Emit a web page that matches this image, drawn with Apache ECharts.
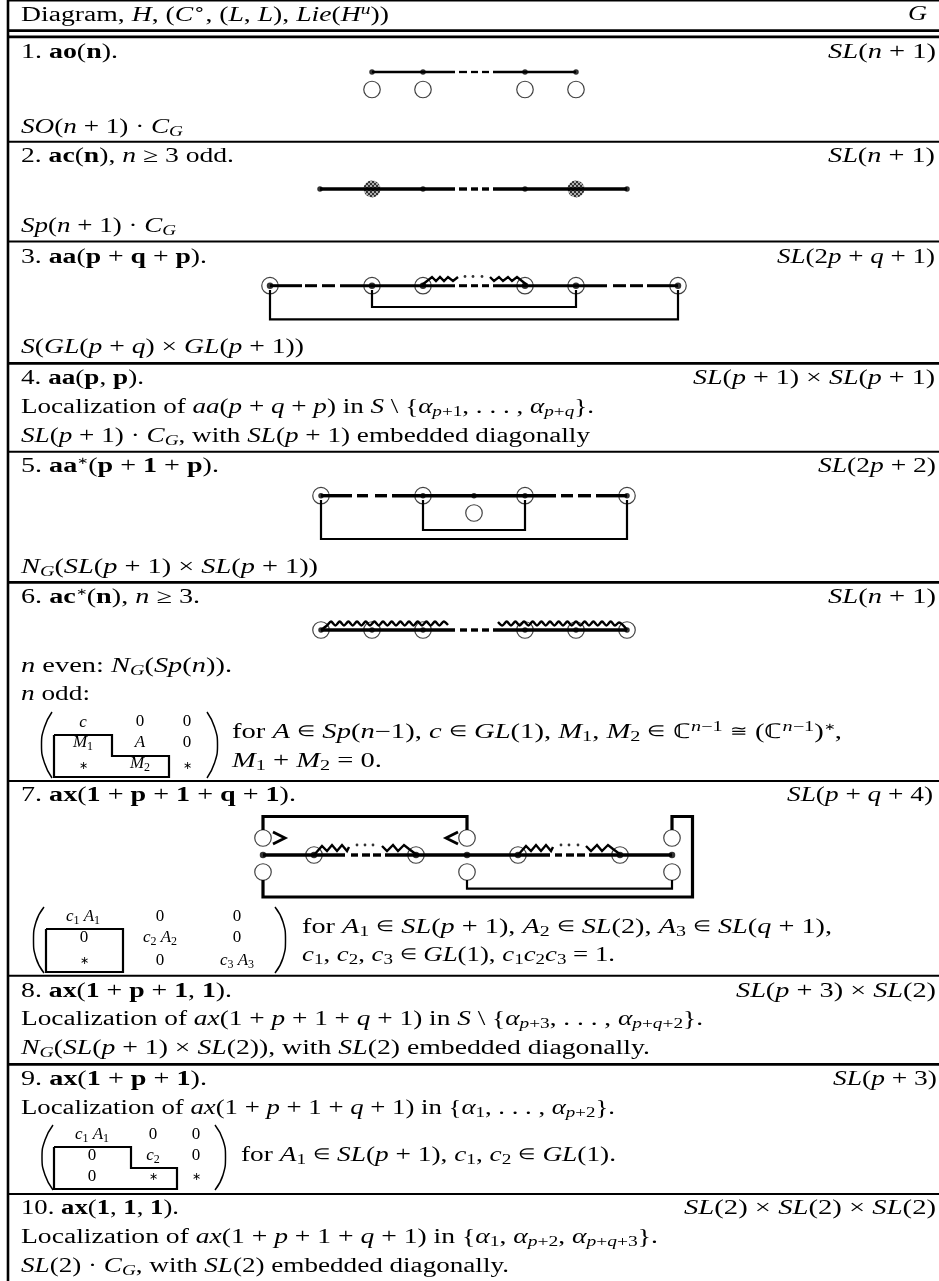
<!DOCTYPE html>
<html><head><meta charset="utf-8">
<style>html,body{margin:0;padding:0;background:#fff}#c{width:939px;height:1281px}</style>
<script src="https://cdn.jsdelivr.net/npm/echarts@6/dist/echarts.min.js"></script>
</head><body><div id="c"></div>
<script>
// ---- table rules: [y, weight]
const heavyRules = [30.7, 36.8, 363.3, 582.3, 1064.3];
const lightRules = [0.6, 141.8, 241.6, 451.7, 781, 975.7, 1194];
const leftBorder = [[8, 0], [8, 1281]];

// ---- text rows: [left, right, centre y, markup]
const textRows = [
 [21,389,15,"Diagram, {i|H}, ({i|C}{ur|∘}, ({i|L}, {i|L}), {i|Lie}({i|H}{u|u}))"],
 [908,927,14,"{i|G}"],
 [21,118,52,"1. {b|ao}({b|n})."],
 [828,936,52,"{i|SL}({i|n} + 1)"],
 [21,183,127,"{i|SO}({i|n} + 1) · {i|C}{s|G}"],
 [21,234,156,"2. {b|ac}({b|n}), {i|n} ≥ 3 odd."],
 [828,935,156,"{i|SL}({i|n} + 1)"],
 [21,176,226,"{i|Sp}({i|n} + 1) · {i|C}{s|G}"],
 [21,207,257,"3. {b|aa}({b|p} + {b|q} + {b|p})."],
 [777,935,257,"{i|SL}(2{i|p} + {i|q} + 1)"],
 [21,304,347,"{i|S}({i|GL}({i|p} + {i|q}) × {i|GL}({i|p} + 1))"],
 [21,144,378,"4. {b|aa}({b|p}, {b|p})."],
 [693,935,378,"{i|SL}({i|p} + 1) × {i|SL}({i|p} + 1)"],
 [21,594,407,"Localization of {i|aa}({i|p} + {i|q} + {i|p}) in {i|S} \\ {{i|α}{s|p}{sr|+1}, . . . , {i|α}{s|p}{sr|+}{s|q}}."],
 [21,590,436,"{i|SL}({i|p} + 1) · {i|C}{s|G}, with {i|SL}({i|p} + 1) embedded diagonally"],
 [21,219,466,"5. {b|aa}{ua|∗}({b|p} + {b|1} + {b|p})."],
 [818,936,466,"{i|SL}(2{i|p} + 2)"],
 [21,318,567,"{i|N}{s|G}({i|SL}({i|p} + 1) × {i|SL}({i|p} + 1))"],
 [21,200,597,"6. {b|ac}{ua|∗}({b|n}), {i|n} ≥ 3."],
 [828,936,597,"{i|SL}({i|n} + 1)"],
 [21,232,666,"{i|n} even: {i|N}{s|G}({i|Sp}({i|n}))."],
 [21,90,694,"{i|n} odd:"],
 [232,842,732,"for {i|A} ∈ {i|Sp}({i|n}−1), {i|c} ∈ {i|GL}(1), {i|M}{sr|1}, {i|M}{sr|2} ∈ ℂ{u|n}{ur|−1} ≅ (ℂ{u|n}{ur|−1}){ua|∗},"],
 [232,382,761,"{i|M}{sr|1} + {i|M}{sr|2} = 0."],
 [21,296,795,"7. {b|ax}({b|1} + {b|p} + {b|1} + {b|q} + {b|1})."],
 [787,933,795,"{i|SL}({i|p} + {i|q} + 4)"],
 [302,832,927,"for {i|A}{sr|1} ∈ {i|SL}({i|p} + 1), {i|A}{sr|2} ∈ {i|SL}(2), {i|A}{sr|3} ∈ {i|SL}({i|q} + 1),"],
 [302,615,955,"{i|c}{sr|1}, {i|c}{sr|2}, {i|c}{sr|3} ∈ {i|GL}(1), {i|c}{sr|1}{i|c}{sr|2}{i|c}{sr|3} = 1."],
 [21,232,991,"8. {b|ax}({b|1} + {b|p} + {b|1}, {b|1})."],
 [736,936,991,"{i|SL}({i|p} + 3) × {i|SL}(2)"],
 [21,703,1019,"Localization of {i|ax}(1 + {i|p} + 1 + {i|q} + 1) in {i|S} \\ {{i|α}{s|p}{sr|+3}, . . . , {i|α}{s|p}{sr|+}{s|q}{sr|+2}}."],
 [21,650,1048,"{i|N}{s|G}({i|SL}({i|p} + 1) × {i|SL}(2)), with {i|SL}(2) embedded diagonally."],
 [21,207,1079,"9. {b|ax}({b|1} + {b|p} + {b|1})."],
 [833,937,1079,"{i|SL}({i|p} + 3)"],
 [21,615,1108,"Localization of {i|ax}(1 + {i|p} + 1 + {i|q} + 1) in {{i|α}{sr|1}, . . . , {i|α}{s|p}{sr|+2}}."],
 [241,616,1155,"for {i|A}{sr|1} ∈ {i|SL}({i|p} + 1), {i|c}{sr|1}, {i|c}{sr|2} ∈ {i|GL}(1)."],
 [21,179,1208,"10. {b|ax}({b|1}, {b|1}, {b|1})."],
 [684,936,1208,"{i|SL}(2) × {i|SL}(2) × {i|SL}(2)"],
 [21,658,1237,"Localization of {i|ax}(1 + {i|p} + 1 + {i|q} + 1) in {{i|α}{sr|1}, {i|α}{s|p}{sr|+2}, {i|α}{s|p}{sr|+}{s|q}{sr|+3}}."],
 [21,509,1266,"{i|SL}(2) · {i|C}{s|G}, with {i|SL}(2) embedded diagonally."]
];

// ---- matrix entries: [centre x, centre y, markup]
const matrixCells = [
 [83,723,"{ci|c}"],[140,722,"0"],[187,722,"0"],
 [83,743,"{ci|M}{cs|1}"],[140,743,"{ci|A}"],[187,743,"0"],
 [83,766,"{cm|∗}"],[140,764,"{ci|M}{cs|2}"],[187,766,"{cm|∗}"],
 [83,917,"{ci|c}{cs|1} {ci|A}{cs|1}"],[160,917,"0"],[237,917,"0"],
 [84,938,"0"],[160,938,"{ci|c}{cs|2} {ci|A}{cs|2}"],[237,938,"0"],
 [84,961,"{cm|∗}"],[160,961,"0"],[237,961,"{ci|c}{cs|3} {ci|A}{cs|3}"],
 [92,1135,"{ci|c}{cs|1} {ci|A}{cs|1}"],[153,1135,"0"],[196,1135,"0"],
 [92,1156,"0"],[153,1156,"{ci|c}{cs|2}"],[196,1156,"0"],
 [92,1177,"0"],[153,1177,"{cm|∗}"],[196,1177,"{cm|∗}"]
];
const matrixParens = [
 [[52,712],[44.5,727],[41.5,745],[44.5,763],[52,778]],
 [[207,712],[214.5,727],[217.5,745],[214.5,763],[207,778]],
 [[44,907],[36,922],[33.5,940],[36,958],[44,973]],
 [[275,907],[283,922],[285.5,940],[283,958],[275,973]],
 [[53,1125],[45,1140],[42,1157],[45,1175],[53,1190]],
 [[215,1125],[223,1140],[225.5,1157],[223,1175],[215,1190]]
];
const matrixBlocks = [
 [[54,735],[112,735],[112,756],[169,756],[169,777],[54,777],[54,735]],
 [[46,929],[123,929],[123,972],[46,972],[46,929]],
 [[54,1147],[131,1147],[131,1168],[177,1168],[177,1189],[54,1189],[54,1147]]
];

// ---- diagram 1
const d1Bars = [[[372,72],[455,72]],[[459,72],[467,72]],[[471,72],[478,72]],[[482,72],[489,72]],[[493,72],[576,72]]];
const d1Dots = [[372,72],[423,72],[525,72],[576,72]];
const d1Rings = [[372,89.5],[423,89.5],[525,89.5],[576,89.5]];
// ---- diagram 2
const d2Bars = [[[320,189],[455,189]],[[459,189],[467,189]],[[471,189],[478,189]],[[482,189],[489,189]],[[493,189],[627,189]]];
const d2Dots = [[320,189],[423,189],[525,189],[627,189]];
const d2Hatched = [[372,189],[576,189]];
// ---- diagram 3
const d3Bars = [[[270,285.7],[302,285.7]],[[305,285.7],[317,285.7]],[[322,285.7],[335,285.7]],[[340,285.7],[455,285.7]],[[459,285.7],[467,285.7]],[[471,285.7],[478,285.7]],[[482,285.7],[489,285.7]],[[493,285.7],[607,285.7]],[[613,285.7],[626,285.7]],[[630,285.7],[643,285.7]],[[647,285.7],[678,285.7]]];
const d3Dots = [[270,285.7],[372,285.7],[423,285.7],[525,285.7],[576,285.7],[678,285.7]];
const d3Links = [[[372,290],[372,307],[576,307],[576,290]],[[270,290],[270,319.3],[678,319.3],[678,290]]];
const d3Wiggles = [
 [[422,285],[432,277],[436,281],[440,277],[444,281],[448,277],[453,281],[458,277]],
 [[490,277],[494,281],[499,277],[503,281],[508,277],[512,281],[517,277],[527,285]]
];
const d3Points = [[465,276.5],[473,276.5],[482,276.5]];
// ---- diagram 5
const d5Bars = [[[321,495.7],[352,495.7]],[[357,495.7],[368,495.7]],[[375,495.7],[387,495.7]],[[392,495.7],[556,495.7]],[[561,495.7],[573,495.7]],[[578,495.7],[591,495.7]],[[596,495.7],[627,495.7]]];
const d5Dots = [[321,495.7],[423,495.7],[474,495.7],[525,495.7],[627,495.7]];
const d5Links = [[[423,500],[423,530],[525,530],[525,500]],[[321,500],[321,539],[627,539],[627,500]]];
const d5Open = [[474,513]];
// ---- diagram 6
const d6Bars = [[[321,630],[455,630]],[[460,630],[467,630]],[[471,630],[478,630]],[[482,630],[489,630]],[[493,630],[627,630]]];
const d6Dots = [[321,630],[372,630],[423,630],[525,630],[576,630],[627,630]];
const d6Wiggles = [
 [[321,630],[327,625.5],[331,621.5],[335.4,625.5],[339.7,621.5],[344,625.5],[348.4,621.5],[352.7,625.5],[357,621.5],[361.4,625.5],[365.7,621.5],[370,625.5],[374.4,621.5],[378.7,625.5],[383,621.5],[387.4,625.5],[391.7,621.5],[396,625.5],[400.4,621.5],[404.7,625.5],[409,621.5],[413.4,625.5],[417.7,621.5],[422,625.5],[426.4,621.5],[430.7,625.5],[435,621.5],[439.4,625.5],[443.7,621.5],[448,625]],
 [[498,622],[502.3,625.5],[506.7,621.5],[511,625.5],[515.4,621.5],[519.7,625.5],[524,621.5],[528.4,625.5],[532.7,621.5],[537,625.5],[541.4,621.5],[545.7,625.5],[550,621.5],[554.4,625.5],[558.7,621.5],[563,625.5],[567.4,621.5],[571.7,625.5],[576,621.5],[580.4,625.5],[584.7,621.5],[589,625.5],[593.4,621.5],[597.7,625.5],[602,621.5],[606.4,625.5],[610.7,621.5],[615,625.5],[619,622.5],[627,630]]
];
// ---- diagram 7
const d7Bars = [[[263,855],[345,855]],[[351,855],[358,855]],[[362,855],[370,855]],[[373,855],[381,855]],[[385,855],[550,855]],[[555,855],[562,855]],[[566,855],[574,855]],[[577,855],[585,855]],[[589,855],[672,855]]];
const d7Dots = [[263,855],[314,855],[416,855],[467,855],[518,855],[620,855],[672,855]];
const d7Open = [[263,838],[263,872],[467,838],[467,872],[672,838],[672,872]];
const d7Thick = [
 [[263,830],[263,816.5],[467,816.5],[467,830]],
 [[263,880],[263,897],[692.5,897],[692.5,816.5],[672,816.5],[672,830]]
];
const d7Thin = [[[467,880],[467,888.7],[672,888.7],[672,880]]];
const d7Arrows = [[[273,832],[285,838],[273,844]],[[458,832],[446,838],[458,844]]];
const d7Wiggles = [
 [[314,855],[322,846],[327,851],[332,845],[337,851],[342,845],[347,851],[349,847]],
 [[382,846],[387,851],[393,845],[398,851],[404,845],[409,849],[417,855]],
 [[518,855],[526,846],[531,851],[536,845],[541,851],[546,845],[551,851],[553,847]],
 [[586,846],[591,851],[597,845],[602,851],[608,845],[613,849],[621,855]]
];
const d7Points = [[357,845],[365,845],[373,845],[561,845],[569,845],[578,845]];
const ringedNodes = [...d3Dots, [321,495.7],[423,495.7],[525,495.7],[627,495.7], ...d6Dots, [314,855],[416,855],[518,855],[620,855]];

// ---- styles
const INK = '#000', TEXT = '#000', FONT = '"Liberation Serif"';
const F = 20.5, SUB = 14.5;
const rich = {
 i:{fontFamily:FONT,fontStyle:'italic',fontSize:F,lineHeight:24,color:TEXT},
 b:{fontFamily:FONT,fontWeight:'bold',fontSize:F,lineHeight:24,color:TEXT},
 m:{fontFamily:FONT,fontSize:15,lineHeight:24,color:TEXT},
 s:{fontFamily:FONT,fontStyle:'italic',fontSize:SUB,height:14,verticalAlign:'bottom',color:TEXT},
 sr:{fontFamily:FONT,fontSize:SUB,height:14,verticalAlign:'bottom',color:TEXT},
 u:{fontFamily:FONT,fontStyle:'italic',fontSize:SUB,height:14,verticalAlign:'top',color:TEXT},
 ur:{fontFamily:FONT,fontSize:SUB,height:14,verticalAlign:'top',color:TEXT},
 ua:{fontFamily:FONT,fontSize:10,height:14,verticalAlign:'top',color:TEXT},
 ci:{fontFamily:FONT,fontStyle:'italic',fontSize:17,lineHeight:20,color:TEXT},
 cm:{fontFamily:FONT,fontSize:11,lineHeight:20,color:TEXT},
 cs:{fontFamily:FONT,fontSize:12,height:12,verticalAlign:'bottom',color:TEXT}
};
const rowFont = `${F}px ${FONT}`, cellFont = `17px ${FONT}`;
const tokenise = s => s.replace(/[∈≅]/g, c => `{m|${c}}`);

const measure = (text, font) => new echarts.graphic.Text({style:{text, rich, font, lineHeight:24}}).getBoundingRect().width;

const series = [];
const addLines = (list, width, extra) => list.forEach(pts => series.push(Object.assign({
  type:'line', data:pts, symbol:'none', silent:true, animation:false, z:3,
  lineStyle:{color:INK,width,cap:'butt',join:'miter'}
}, extra||{})));
const addMarks = (pts, size, itemStyle, z) => series.push({
  type:'scatter', data:pts, symbol:'circle', symbolSize:size, silent:true, animation:false,
  itemStyle, z: z||4
});

// checker fill for the shaded nodes; symbols are drawn in a unit box, so the tile is scaled back by the radius
const HATCH_SIZE = 17;
const tile = document.createElement('canvas'); tile.width = tile.height = 4;
const tc = tile.getContext('2d'); tc.fillStyle='#999'; tc.fillRect(0,0,4,4);
tc.fillStyle='#000'; tc.fillRect(0,0,2,2); tc.fillRect(2,2,2,2);

addLines(heavyRules.map(y=>[[7,y],[939,y]]), 2.8);
addLines(lightRules.map(y=>[[7,y],[939,y]]), 2);
addLines([leftBorder], 2.6);

const ring = {color:'transparent',borderColor:'#111',borderWidth:1.2};
const openRing = {color:'#fff',borderColor:'#111',borderWidth:1.2};
addMarks(d2Hatched, HATCH_SIZE, {color:{image:tile,repeat:'repeat',scaleX:2/HATCH_SIZE,scaleY:2/HATCH_SIZE}}, 2);
addMarks(ringedNodes, 16.5, ring, 2);
addMarks([...d1Rings, ...d5Open, ...d7Open], 16.5, openRing, 2);

addLines(d1Bars, 2.3);
addLines(d2Bars, 3.4);
addLines(d3Bars, 3);
addLines(d5Bars, 3.4);
addLines(d6Bars, 3.4);
addLines(d7Bars, 3.4);
addLines(d3Links, 2.2);
addLines(d5Links, 2.2);
addLines(d7Thick, 3.2);
addLines(d7Thin, 2.2);
addLines(d7Arrows, 2.8);
addLines(matrixBlocks, 2.2);
addLines(matrixParens, 1.5, {smooth:0.5});
addLines(d3Wiggles, 2.4);
addLines(d6Wiggles, 2.4, {smooth:0.3});
addLines(d7Wiggles, 2.4);

addMarks(d1Dots, 5.5, {color:INK});
addMarks(d2Dots, 5.5, {color:INK});
addMarks(d3Dots, 6.5, {color:INK});
addMarks(d5Dots, 5.5, {color:INK});
addMarks(d6Dots, 5.5, {color:INK});
addMarks(d7Dots, 6.5, {color:INK});
addMarks([...d3Points, ...d7Points], 2.8, {color:INK});

// text rows, each fitted to the span it occupies
series.push({
  type:'custom', coordinateSystem:'cartesian2d', silent:true, animation:false, z:6,
  data:textRows.map(r=>[r[0],r[2]]),
  clip:false,
  renderItem(p, api){
    const r = textRows[p.dataIndex];
    const text = tokenise(r[3]);
    const a = api.coord([r[0], r[2]]), b = api.coord([r[1], r[2]]);
    const w = measure(text, rowFont);
    return {type:'text', x:a[0], y:a[1]+0.5, scaleX:(b[0]-a[0])/w,
      style:{text, rich, font:rowFont, fill:TEXT, lineHeight:24, align:'left', verticalAlign:'middle'}};
  }
});
series.push({
  type:'custom', coordinateSystem:'cartesian2d', silent:true, animation:false, z:6,
  data:matrixCells.map(r=>[r[0],r[1]]),
  clip:false,
  renderItem(p, api){
    const r = matrixCells[p.dataIndex];
    const a = api.coord([r[0], r[1]]);
    return {type:'text', x:a[0], y:a[1],
      style:{text:r[2], rich, font:cellFont, fill:TEXT, lineHeight:20, align:'center', verticalAlign:'middle'}};
  }
});

const chart = echarts.init(document.getElementById('c'), null, {renderer:'canvas'});
chart.setOption({
  backgroundColor:'#fff', animation:false,
  grid:{left:0,right:0,top:0,bottom:0},
  xAxis:{type:'value',min:0,max:939,show:false},
  yAxis:{type:'value',min:0,max:1281,inverse:true,show:false},
  series
});
</script></body></html>
